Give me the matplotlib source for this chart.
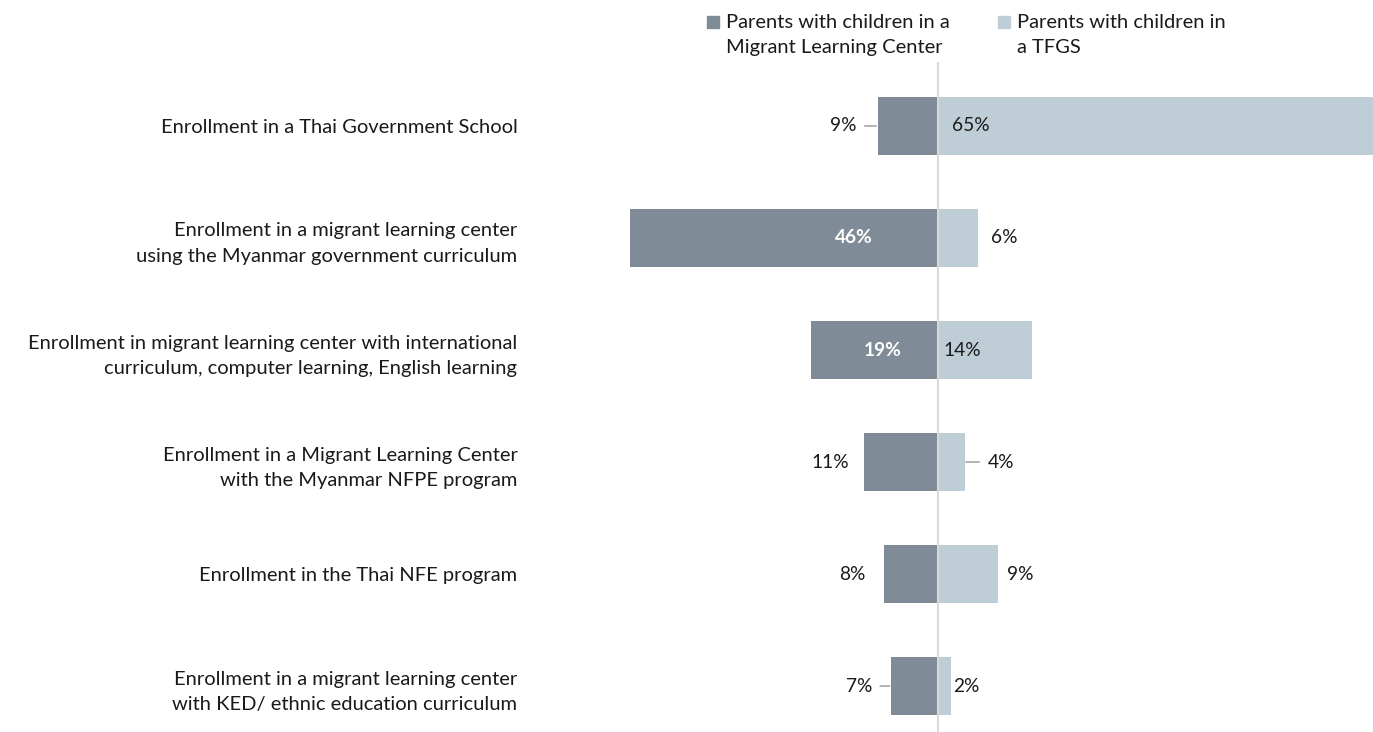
import matplotlib
matplotlib.use("Agg")
import matplotlib.pyplot as plt
from matplotlib.patches import Rectangle

plt.rcParams['font.family'] = ['Lato', 'DejaVu Sans']

categories = [
    "Enrollment in a Thai Government School",
    "Enrollment in a migrant learning center\nusing the Myanmar government curriculum",
    "Enrollment in migrant learning center with international\ncurriculum, computer learning, English learning",
    "Enrollment in a Migrant Learning Center\nwith the Myanmar NFPE program",
    "Enrollment in the Thai NFE program",
    "Enrollment in a migrant learning center\nwith KED/ ethnic education curriculum",
]
mlc_parents = [9, 46, 19, 11, 8, 7]
tfgs_parents = [65, 6, 14, 4, 9, 2]
series_names = ["Parents with children in a\nMigrant Learning Center",
                "Parents with children in\na TFGS"]

DARK = '#7f8b96'
LIGHT = '#bfcdd6'
TEXT = '#1a1a1a'
FS_CAT = 14.5
FS_VAL = 13.8

# label placement: (mode, pixel offset from bar end)
left_place = [('leader', 21), ('inside_c', 0), ('inside_c', 0), ('out', 15), ('out', 19), ('leader', 19)]
left_inside_x = {1: -12.5, 2: -8.3}
right_place = [('inside', 14), ('out', 13), ('inside', 6), ('leader', 23), ('out', 9), ('out', 2)]

fig = plt.figure(figsize=(13.73, 7.32), dpi=100)
ax = fig.add_axes([530 / 1373, 0, 1 - 530 / 1373, (732 - 62) / 732])

y = list(range(len(categories)))
ax.barh(y, [-v for v in mlc_parents], height=0.52, color=DARK, zorder=2)
ax.barh(y, tfgs_parents, height=0.52, color=LIGHT, zorder=2)
ax.axvline(0, color='#d9d9d9', lw=1.5, zorder=3)

ax.set_xlim(-60.9, 65)
ax.set_ylim(5.41, -0.571)
ax.set_yticks(y)
ax.set_yticklabels(categories, fontsize=FS_CAT, color=TEXT, linespacing=1.6)
ax.tick_params(axis='y', length=0, pad=9)
ax.set_xticks([])
for s in ax.spines.values():
    s.set_visible(False)

lead = dict(arrowstyle='-', color='#a6a6a6', lw=1.2, shrinkA=4, shrinkB=1)
for i, v in enumerate(mlc_parents):
    mode, off = left_place[i]
    lbl = f"{v}%"
    if mode == 'inside_c':
        ax.text(left_inside_x[i], i, lbl, ha='center', va='center', color='white',
                fontsize=FS_VAL, fontweight='bold', zorder=4)
    elif mode == 'leader':
        ax.annotate(lbl, xy=(-v, i), xytext=(-off, 0), textcoords='offset pixels',
                    ha='right', va='center', fontsize=FS_VAL, color=TEXT, arrowprops=lead)
    else:
        ax.annotate(lbl, xy=(-v, i), xytext=(-off, 0), textcoords='offset pixels',
                    ha='right', va='center', fontsize=FS_VAL, color=TEXT)

for i, v in enumerate(tfgs_parents):
    mode, off = right_place[i]
    lbl = f"{v}%"
    if mode == 'inside':
        ax.annotate(lbl, xy=(0, i), xytext=(off, 0), textcoords='offset pixels',
                    ha='left', va='center', fontsize=FS_VAL, color=TEXT, zorder=4)
    elif mode == 'leader':
        ax.annotate(lbl, xy=(v, i), xytext=(off, 0), textcoords='offset pixels',
                    ha='left', va='center', fontsize=FS_VAL, color=TEXT, arrowprops=lead)
    else:
        ax.annotate(lbl, xy=(v, i), xytext=(off, 0), textcoords='offset pixels',
                    ha='left', va='center', fontsize=FS_VAL, color=TEXT)

# legend
W, H = 1373, 732
for (px, col, name) in [(707, DARK, series_names[0]), (998, LIGHT, series_names[1])]:
    fig.patches.append(Rectangle((px / W, 1 - 28 / H), 12 / W, 12 / H,
                                 transform=fig.transFigure, color=col))
    fig.text((px + 19) / W, 1 - 14 / H, name, ha='left', va='top',
             fontsize=FS_CAT, color=TEXT, linespacing=1.6)

fig.savefig("out.png", dpi=100)
